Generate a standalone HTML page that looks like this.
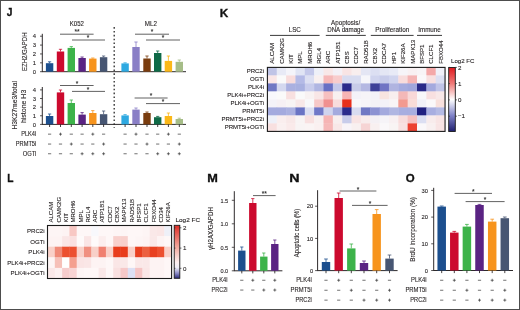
<!DOCTYPE html>
<html><head><meta charset="utf-8"><style>
html,body{margin:0;padding:0;background:#fff;}
body{width:520px;height:310px;overflow:hidden;}
svg{display:block;font-family:"Liberation Sans", sans-serif;will-change:transform;}
</style></head><body>
<svg width="520" height="310" viewBox="0 0 520 310">
<defs><linearGradient id="gk" x1="0" y1="0" x2="0" y2="1">
<stop offset="0" stop-color="#e0191e"/><stop offset="0.25" stop-color="#f07a78"/><stop offset="0.5" stop-color="#ffffff"/><stop offset="0.75" stop-color="#8083c8"/><stop offset="1" stop-color="#1e1e6e"/>
</linearGradient>
<linearGradient id="gl" x1="0" y1="0" x2="0" y2="1">
<stop offset="0" stop-color="#de2d26"/><stop offset="0.4" stop-color="#f2a59a"/><stop offset="0.7" stop-color="#fdf0f0"/><stop offset="0.8" stop-color="#eeeef8"/><stop offset="0.9" stop-color="#9090c8"/><stop offset="1" stop-color="#2a2a7a"/>
</linearGradient></defs>
<rect x="0" y="0" width="520" height="310" fill="#fff"/>
<text x="9.50" y="16.42" font-size="10.20" text-anchor="middle" font-weight="bold" fill="#111" stroke="#111" stroke-width="0.3">J</text>
<text x="224.00" y="16.52" font-size="10.20" text-anchor="middle" font-weight="bold" fill="#111" textLength="8.50" lengthAdjust="spacingAndGlyphs" stroke="#111" stroke-width="0.3">K</text>
<text x="10.40" y="181.52" font-size="10.20" text-anchor="middle" font-weight="bold" fill="#111" stroke="#111" stroke-width="0.3">L</text>
<text x="212.60" y="181.52" font-size="10.20" text-anchor="middle" font-weight="bold" fill="#111" textLength="10.60" lengthAdjust="spacingAndGlyphs" stroke="#111" stroke-width="0.3">M</text>
<text x="294.30" y="181.52" font-size="10.20" text-anchor="middle" font-weight="bold" fill="#111" textLength="10.30" lengthAdjust="spacingAndGlyphs" stroke="#111" stroke-width="0.3">N</text>
<text x="410.30" y="181.52" font-size="10.20" text-anchor="middle" font-weight="bold" fill="#111" textLength="8.90" lengthAdjust="spacingAndGlyphs" stroke="#111" stroke-width="0.3">O</text>
<line x1="42.30" y1="33.80" x2="42.30" y2="71.70" stroke="#231f20" stroke-width="0.95"/>
<line x1="41.90" y1="71.70" x2="186.00" y2="71.70" stroke="#231f20" stroke-width="0.95"/>
<line x1="40.00" y1="71.70" x2="42.30" y2="71.70" stroke="#231f20" stroke-width="0.75"/>
<text x="36.00" y="73.94" font-size="6.15" text-anchor="end" font-weight="normal" fill="#231f20" textLength="3.28" lengthAdjust="spacingAndGlyphs" stroke="#231f20" stroke-width="0.1">0</text>
<line x1="40.00" y1="62.83" x2="42.30" y2="62.83" stroke="#231f20" stroke-width="0.75"/>
<text x="36.00" y="65.06" font-size="6.15" text-anchor="end" font-weight="normal" fill="#231f20" textLength="3.28" lengthAdjust="spacingAndGlyphs" stroke="#231f20" stroke-width="0.1">1</text>
<line x1="40.00" y1="53.95" x2="42.30" y2="53.95" stroke="#231f20" stroke-width="0.75"/>
<text x="36.00" y="56.19" font-size="6.15" text-anchor="end" font-weight="normal" fill="#231f20" textLength="3.28" lengthAdjust="spacingAndGlyphs" stroke="#231f20" stroke-width="0.1">2</text>
<line x1="40.00" y1="45.08" x2="42.30" y2="45.08" stroke="#231f20" stroke-width="0.75"/>
<text x="36.00" y="47.32" font-size="6.15" text-anchor="end" font-weight="normal" fill="#231f20" textLength="3.28" lengthAdjust="spacingAndGlyphs" stroke="#231f20" stroke-width="0.1">3</text>
<line x1="40.00" y1="36.20" x2="42.30" y2="36.20" stroke="#231f20" stroke-width="0.75"/>
<text x="36.00" y="38.44" font-size="6.15" text-anchor="end" font-weight="normal" fill="#231f20" textLength="3.28" lengthAdjust="spacingAndGlyphs" stroke="#231f20" stroke-width="0.1">4</text>
<rect x="45.90" y="63.20" width="7.40" height="8.50" fill="#1c4f8e"/>
<line x1="49.60" y1="61.80" x2="49.60" y2="63.20" stroke="#1c4f8e" stroke-width="0.8"/>
<line x1="47.97" y1="61.80" x2="51.23" y2="61.80" stroke="#1c4f8e" stroke-width="0.8"/>
<rect x="56.80" y="51.50" width="7.40" height="20.20" fill="#cc0a2e"/>
<line x1="60.50" y1="49.30" x2="60.50" y2="51.50" stroke="#cc0a2e" stroke-width="0.8"/>
<line x1="58.87" y1="49.30" x2="62.13" y2="49.30" stroke="#cc0a2e" stroke-width="0.8"/>
<rect x="67.60" y="47.90" width="7.40" height="23.80" fill="#3db34a"/>
<line x1="71.30" y1="46.60" x2="71.30" y2="47.90" stroke="#3db34a" stroke-width="0.8"/>
<line x1="69.67" y1="46.60" x2="72.93" y2="46.60" stroke="#3db34a" stroke-width="0.8"/>
<rect x="78.40" y="58.00" width="7.40" height="13.70" fill="#5a2383"/>
<line x1="82.10" y1="57.00" x2="82.10" y2="58.00" stroke="#5a2383" stroke-width="0.8"/>
<line x1="80.47" y1="57.00" x2="83.73" y2="57.00" stroke="#5a2383" stroke-width="0.8"/>
<rect x="89.10" y="58.60" width="7.40" height="13.10" fill="#f7941d"/>
<line x1="92.80" y1="58.00" x2="92.80" y2="58.60" stroke="#f7941d" stroke-width="0.8"/>
<line x1="91.17" y1="58.00" x2="94.43" y2="58.00" stroke="#f7941d" stroke-width="0.8"/>
<rect x="99.90" y="57.20" width="7.40" height="14.50" fill="#475673"/>
<line x1="103.60" y1="56.00" x2="103.60" y2="57.20" stroke="#475673" stroke-width="0.8"/>
<line x1="101.97" y1="56.00" x2="105.23" y2="56.00" stroke="#475673" stroke-width="0.8"/>
<rect x="121.40" y="63.40" width="7.40" height="8.30" fill="#2ea9e1"/>
<line x1="125.10" y1="62.80" x2="125.10" y2="63.40" stroke="#2ea9e1" stroke-width="0.8"/>
<line x1="123.47" y1="62.80" x2="126.73" y2="62.80" stroke="#2ea9e1" stroke-width="0.8"/>
<rect x="132.30" y="47.00" width="7.40" height="24.70" fill="#8a7fc6"/>
<line x1="136.00" y1="42.00" x2="136.00" y2="47.00" stroke="#8a7fc6" stroke-width="0.8"/>
<line x1="134.37" y1="42.00" x2="137.63" y2="42.00" stroke="#8a7fc6" stroke-width="0.8"/>
<rect x="143.30" y="58.50" width="7.40" height="13.20" fill="#7a3d0f"/>
<line x1="147.00" y1="56.00" x2="147.00" y2="58.50" stroke="#7a3d0f" stroke-width="0.8"/>
<line x1="145.37" y1="56.00" x2="148.63" y2="56.00" stroke="#7a3d0f" stroke-width="0.8"/>
<rect x="154.00" y="53.00" width="7.40" height="18.70" fill="#0f6a47"/>
<line x1="157.70" y1="51.00" x2="157.70" y2="53.00" stroke="#0f6a47" stroke-width="0.8"/>
<line x1="156.07" y1="51.00" x2="159.33" y2="51.00" stroke="#0f6a47" stroke-width="0.8"/>
<rect x="164.70" y="60.90" width="7.40" height="10.80" fill="#fbb818"/>
<line x1="168.40" y1="56.00" x2="168.40" y2="60.90" stroke="#fbb818" stroke-width="0.8"/>
<line x1="166.77" y1="56.00" x2="170.03" y2="56.00" stroke="#fbb818" stroke-width="0.8"/>
<rect x="175.60" y="61.80" width="7.40" height="9.90" fill="#a6bd88"/>
<line x1="179.30" y1="60.00" x2="179.30" y2="61.80" stroke="#a6bd88" stroke-width="0.8"/>
<line x1="177.67" y1="60.00" x2="180.93" y2="60.00" stroke="#a6bd88" stroke-width="0.8"/>
<text x="27.29" y="51.70" font-size="6.82" text-anchor="middle" font-weight="normal" fill="#231f20" transform="rotate(-90 27.29 51.70)" textLength="38.60" lengthAdjust="spacingAndGlyphs" stroke="#231f20" stroke-width="0.1">EZH2/GAPDH</text>
<text x="76.90" y="25.58" font-size="6.53" text-anchor="middle" font-weight="normal" fill="#231f20" textLength="14.15" lengthAdjust="spacingAndGlyphs" stroke="#231f20" stroke-width="0.1">K052</text>
<text x="150.90" y="25.58" font-size="6.53" text-anchor="middle" font-weight="normal" fill="#231f20" textLength="12.17" lengthAdjust="spacingAndGlyphs" stroke="#231f20" stroke-width="0.1">ML2</text>
<line x1="60.00" y1="34.20" x2="93.60" y2="34.20" stroke="#505050" stroke-width="0.9"/>
<text x="77.00" y="34.30" font-size="6.6" text-anchor="middle" font-weight="bold" fill="#333">**</text>
<line x1="72.00" y1="40.00" x2="105.00" y2="40.00" stroke="#505050" stroke-width="0.9"/>
<text x="88.00" y="40.30" font-size="6.6" text-anchor="middle" font-weight="bold" fill="#333">*</text>
<line x1="135.00" y1="34.20" x2="169.00" y2="34.20" stroke="#505050" stroke-width="0.9"/>
<text x="152.00" y="34.30" font-size="6.6" text-anchor="middle" font-weight="bold" fill="#333">*</text>
<line x1="146.00" y1="40.00" x2="180.00" y2="40.00" stroke="#505050" stroke-width="0.9"/>
<text x="163.00" y="40.30" font-size="6.6" text-anchor="middle" font-weight="bold" fill="#333">*</text>
<line x1="42.30" y1="87.00" x2="42.30" y2="124.40" stroke="#231f20" stroke-width="0.95"/>
<line x1="41.90" y1="124.40" x2="186.00" y2="124.40" stroke="#231f20" stroke-width="0.95"/>
<line x1="40.00" y1="124.40" x2="42.30" y2="124.40" stroke="#231f20" stroke-width="0.75"/>
<text x="36.00" y="126.64" font-size="6.15" text-anchor="end" font-weight="normal" fill="#231f20" textLength="3.28" lengthAdjust="spacingAndGlyphs" stroke="#231f20" stroke-width="0.1">0</text>
<line x1="40.00" y1="115.78" x2="42.30" y2="115.78" stroke="#231f20" stroke-width="0.75"/>
<text x="36.00" y="118.02" font-size="6.15" text-anchor="end" font-weight="normal" fill="#231f20" textLength="3.28" lengthAdjust="spacingAndGlyphs" stroke="#231f20" stroke-width="0.1">1</text>
<line x1="40.00" y1="107.15" x2="42.30" y2="107.15" stroke="#231f20" stroke-width="0.75"/>
<text x="36.00" y="109.39" font-size="6.15" text-anchor="end" font-weight="normal" fill="#231f20" textLength="3.28" lengthAdjust="spacingAndGlyphs" stroke="#231f20" stroke-width="0.1">2</text>
<line x1="40.00" y1="98.53" x2="42.30" y2="98.53" stroke="#231f20" stroke-width="0.75"/>
<text x="36.00" y="100.77" font-size="6.15" text-anchor="end" font-weight="normal" fill="#231f20" textLength="3.28" lengthAdjust="spacingAndGlyphs" stroke="#231f20" stroke-width="0.1">3</text>
<line x1="40.00" y1="89.90" x2="42.30" y2="89.90" stroke="#231f20" stroke-width="0.75"/>
<text x="36.00" y="92.14" font-size="6.15" text-anchor="end" font-weight="normal" fill="#231f20" textLength="3.28" lengthAdjust="spacingAndGlyphs" stroke="#231f20" stroke-width="0.1">4</text>
<rect x="45.90" y="116.00" width="7.40" height="8.40" fill="#1c4f8e"/>
<line x1="49.60" y1="114.00" x2="49.60" y2="116.00" stroke="#1c4f8e" stroke-width="0.8"/>
<line x1="47.97" y1="114.00" x2="51.23" y2="114.00" stroke="#1c4f8e" stroke-width="0.8"/>
<rect x="56.80" y="92.40" width="7.40" height="32.00" fill="#cc0a2e"/>
<line x1="60.50" y1="90.00" x2="60.50" y2="92.40" stroke="#cc0a2e" stroke-width="0.8"/>
<line x1="58.87" y1="90.00" x2="62.13" y2="90.00" stroke="#cc0a2e" stroke-width="0.8"/>
<rect x="67.60" y="103.00" width="7.40" height="21.40" fill="#3db34a"/>
<line x1="71.30" y1="100.00" x2="71.30" y2="103.00" stroke="#3db34a" stroke-width="0.8"/>
<line x1="69.67" y1="100.00" x2="72.93" y2="100.00" stroke="#3db34a" stroke-width="0.8"/>
<rect x="78.40" y="114.60" width="7.40" height="9.80" fill="#5a2383"/>
<line x1="82.10" y1="112.60" x2="82.10" y2="114.60" stroke="#5a2383" stroke-width="0.8"/>
<line x1="80.47" y1="112.60" x2="83.73" y2="112.60" stroke="#5a2383" stroke-width="0.8"/>
<rect x="89.10" y="113.00" width="7.40" height="11.40" fill="#f7941d"/>
<line x1="92.80" y1="110.60" x2="92.80" y2="113.00" stroke="#f7941d" stroke-width="0.8"/>
<line x1="91.17" y1="110.60" x2="94.43" y2="110.60" stroke="#f7941d" stroke-width="0.8"/>
<rect x="99.90" y="114.20" width="7.40" height="10.20" fill="#475673"/>
<line x1="103.60" y1="111.00" x2="103.60" y2="114.20" stroke="#475673" stroke-width="0.8"/>
<line x1="101.97" y1="111.00" x2="105.23" y2="111.00" stroke="#475673" stroke-width="0.8"/>
<rect x="121.40" y="115.40" width="7.40" height="9.00" fill="#2ea9e1"/>
<line x1="125.10" y1="114.60" x2="125.10" y2="115.40" stroke="#2ea9e1" stroke-width="0.8"/>
<line x1="123.47" y1="114.60" x2="126.73" y2="114.60" stroke="#2ea9e1" stroke-width="0.8"/>
<rect x="132.30" y="109.60" width="7.40" height="14.80" fill="#8a7fc6"/>
<line x1="136.00" y1="108.00" x2="136.00" y2="109.60" stroke="#8a7fc6" stroke-width="0.8"/>
<line x1="134.37" y1="108.00" x2="137.63" y2="108.00" stroke="#8a7fc6" stroke-width="0.8"/>
<rect x="143.30" y="113.00" width="7.40" height="11.40" fill="#7a3d0f"/>
<line x1="147.00" y1="112.00" x2="147.00" y2="113.00" stroke="#7a3d0f" stroke-width="0.8"/>
<line x1="145.37" y1="112.00" x2="148.63" y2="112.00" stroke="#7a3d0f" stroke-width="0.8"/>
<rect x="154.00" y="117.20" width="7.40" height="7.20" fill="#0f6a47"/>
<line x1="157.70" y1="116.40" x2="157.70" y2="117.20" stroke="#0f6a47" stroke-width="0.8"/>
<line x1="156.07" y1="116.40" x2="159.33" y2="116.40" stroke="#0f6a47" stroke-width="0.8"/>
<rect x="164.70" y="116.00" width="7.40" height="8.40" fill="#fbb818"/>
<line x1="168.40" y1="113.00" x2="168.40" y2="116.00" stroke="#fbb818" stroke-width="0.8"/>
<line x1="166.77" y1="113.00" x2="170.03" y2="113.00" stroke="#fbb818" stroke-width="0.8"/>
<rect x="175.60" y="119.00" width="7.40" height="5.40" fill="#a6bd88"/>
<line x1="179.30" y1="118.20" x2="179.30" y2="119.00" stroke="#a6bd88" stroke-width="0.8"/>
<line x1="177.67" y1="118.20" x2="180.93" y2="118.20" stroke="#a6bd88" stroke-width="0.8"/>
<line x1="49.60" y1="124.40" x2="49.60" y2="127.00" stroke="#231f20" stroke-width="0.85"/>
<line x1="60.50" y1="124.40" x2="60.50" y2="127.00" stroke="#231f20" stroke-width="0.85"/>
<line x1="71.30" y1="124.40" x2="71.30" y2="127.00" stroke="#231f20" stroke-width="0.85"/>
<line x1="82.10" y1="124.40" x2="82.10" y2="127.00" stroke="#231f20" stroke-width="0.85"/>
<line x1="92.80" y1="124.40" x2="92.80" y2="127.00" stroke="#231f20" stroke-width="0.85"/>
<line x1="103.60" y1="124.40" x2="103.60" y2="127.00" stroke="#231f20" stroke-width="0.85"/>
<line x1="125.10" y1="124.40" x2="125.10" y2="127.00" stroke="#231f20" stroke-width="0.85"/>
<line x1="136.00" y1="124.40" x2="136.00" y2="127.00" stroke="#231f20" stroke-width="0.85"/>
<line x1="147.00" y1="124.40" x2="147.00" y2="127.00" stroke="#231f20" stroke-width="0.85"/>
<line x1="157.70" y1="124.40" x2="157.70" y2="127.00" stroke="#231f20" stroke-width="0.85"/>
<line x1="168.40" y1="124.40" x2="168.40" y2="127.00" stroke="#231f20" stroke-width="0.85"/>
<line x1="179.30" y1="124.40" x2="179.30" y2="127.00" stroke="#231f20" stroke-width="0.85"/>
<text x="17.25" y="105.30" font-size="7.01" text-anchor="middle" font-weight="normal" fill="#231f20" transform="rotate(-90 17.25 105.30)" textLength="48.60" lengthAdjust="spacingAndGlyphs" stroke="#231f20" stroke-width="0.1">H3K27me3/total</text>
<text x="25.86" y="106.40" font-size="7.01" text-anchor="middle" font-weight="normal" fill="#231f20" transform="rotate(-90 25.86 106.40)" textLength="33.40" lengthAdjust="spacingAndGlyphs" stroke="#231f20" stroke-width="0.1">histone H3</text>
<line x1="60.00" y1="85.50" x2="93.60" y2="85.50" stroke="#505050" stroke-width="0.9"/>
<text x="77.00" y="85.70" font-size="6.6" text-anchor="middle" font-weight="bold" fill="#333">*</text>
<line x1="72.00" y1="91.40" x2="105.00" y2="91.40" stroke="#505050" stroke-width="0.9"/>
<text x="88.00" y="91.70" font-size="6.6" text-anchor="middle" font-weight="bold" fill="#333">*</text>
<line x1="134.60" y1="98.00" x2="167.60" y2="98.00" stroke="#505050" stroke-width="0.9"/>
<text x="151.10" y="98.30" font-size="6.6" text-anchor="middle" font-weight="bold" fill="#333">*</text>
<line x1="146.00" y1="103.60" x2="180.00" y2="103.60" stroke="#505050" stroke-width="0.9"/>
<text x="163.00" y="103.90" font-size="6.6" text-anchor="middle" font-weight="bold" fill="#333">*</text>
<line x1="114.20" y1="27.10" x2="114.20" y2="128.00" stroke="#2a2a2a" stroke-width="1.3" stroke-dasharray="1.6 2.25"/>
<text x="36.30" y="136.01" font-size="6.34" text-anchor="end" font-weight="normal" fill="#231f20" textLength="15.13" lengthAdjust="spacingAndGlyphs" stroke="#231f20" stroke-width="0.1">PLK4i</text>
<line x1="48.00" y1="134.15" x2="51.20" y2="134.15" stroke="#333" stroke-width="0.7"/>
<line x1="59.00" y1="134.15" x2="62.00" y2="134.15" stroke="#333" stroke-width="0.7"/>
<line x1="60.50" y1="132.65" x2="60.50" y2="135.65" stroke="#333" stroke-width="0.7"/>
<line x1="69.70" y1="134.15" x2="72.90" y2="134.15" stroke="#333" stroke-width="0.7"/>
<line x1="80.50" y1="134.15" x2="83.70" y2="134.15" stroke="#333" stroke-width="0.7"/>
<line x1="91.30" y1="134.15" x2="94.30" y2="134.15" stroke="#333" stroke-width="0.7"/>
<line x1="92.80" y1="132.65" x2="92.80" y2="135.65" stroke="#333" stroke-width="0.7"/>
<line x1="102.00" y1="134.15" x2="105.20" y2="134.15" stroke="#333" stroke-width="0.7"/>
<line x1="123.50" y1="134.15" x2="126.70" y2="134.15" stroke="#333" stroke-width="0.7"/>
<line x1="134.50" y1="134.15" x2="137.50" y2="134.15" stroke="#333" stroke-width="0.7"/>
<line x1="136.00" y1="132.65" x2="136.00" y2="135.65" stroke="#333" stroke-width="0.7"/>
<line x1="145.40" y1="134.15" x2="148.60" y2="134.15" stroke="#333" stroke-width="0.7"/>
<line x1="156.10" y1="134.15" x2="159.30" y2="134.15" stroke="#333" stroke-width="0.7"/>
<line x1="166.90" y1="134.15" x2="169.90" y2="134.15" stroke="#333" stroke-width="0.7"/>
<line x1="168.40" y1="132.65" x2="168.40" y2="135.65" stroke="#333" stroke-width="0.7"/>
<line x1="177.70" y1="134.15" x2="180.90" y2="134.15" stroke="#333" stroke-width="0.7"/>
<text x="36.30" y="145.91" font-size="6.34" text-anchor="end" font-weight="normal" fill="#231f20" textLength="20.58" lengthAdjust="spacingAndGlyphs" stroke="#231f20" stroke-width="0.1">PRMT5i</text>
<line x1="48.00" y1="144.05" x2="51.20" y2="144.05" stroke="#333" stroke-width="0.7"/>
<line x1="58.90" y1="144.05" x2="62.10" y2="144.05" stroke="#333" stroke-width="0.7"/>
<line x1="69.80" y1="144.05" x2="72.80" y2="144.05" stroke="#333" stroke-width="0.7"/>
<line x1="71.30" y1="142.55" x2="71.30" y2="145.55" stroke="#333" stroke-width="0.7"/>
<line x1="80.50" y1="144.05" x2="83.70" y2="144.05" stroke="#333" stroke-width="0.7"/>
<line x1="91.20" y1="144.05" x2="94.40" y2="144.05" stroke="#333" stroke-width="0.7"/>
<line x1="102.10" y1="144.05" x2="105.10" y2="144.05" stroke="#333" stroke-width="0.7"/>
<line x1="103.60" y1="142.55" x2="103.60" y2="145.55" stroke="#333" stroke-width="0.7"/>
<line x1="123.50" y1="144.05" x2="126.70" y2="144.05" stroke="#333" stroke-width="0.7"/>
<line x1="134.40" y1="144.05" x2="137.60" y2="144.05" stroke="#333" stroke-width="0.7"/>
<line x1="145.50" y1="144.05" x2="148.50" y2="144.05" stroke="#333" stroke-width="0.7"/>
<line x1="147.00" y1="142.55" x2="147.00" y2="145.55" stroke="#333" stroke-width="0.7"/>
<line x1="156.10" y1="144.05" x2="159.30" y2="144.05" stroke="#333" stroke-width="0.7"/>
<line x1="166.80" y1="144.05" x2="170.00" y2="144.05" stroke="#333" stroke-width="0.7"/>
<line x1="177.80" y1="144.05" x2="180.80" y2="144.05" stroke="#333" stroke-width="0.7"/>
<line x1="179.30" y1="142.55" x2="179.30" y2="145.55" stroke="#333" stroke-width="0.7"/>
<text x="36.30" y="155.61" font-size="6.34" text-anchor="end" font-weight="normal" fill="#231f20" textLength="13.64" lengthAdjust="spacingAndGlyphs" stroke="#231f20" stroke-width="0.1">OGTi</text>
<line x1="48.00" y1="153.75" x2="51.20" y2="153.75" stroke="#333" stroke-width="0.7"/>
<line x1="58.90" y1="153.75" x2="62.10" y2="153.75" stroke="#333" stroke-width="0.7"/>
<line x1="69.70" y1="153.75" x2="72.90" y2="153.75" stroke="#333" stroke-width="0.7"/>
<line x1="80.60" y1="153.75" x2="83.60" y2="153.75" stroke="#333" stroke-width="0.7"/>
<line x1="82.10" y1="152.25" x2="82.10" y2="155.25" stroke="#333" stroke-width="0.7"/>
<line x1="91.30" y1="153.75" x2="94.30" y2="153.75" stroke="#333" stroke-width="0.7"/>
<line x1="92.80" y1="152.25" x2="92.80" y2="155.25" stroke="#333" stroke-width="0.7"/>
<line x1="102.10" y1="153.75" x2="105.10" y2="153.75" stroke="#333" stroke-width="0.7"/>
<line x1="103.60" y1="152.25" x2="103.60" y2="155.25" stroke="#333" stroke-width="0.7"/>
<line x1="123.50" y1="153.75" x2="126.70" y2="153.75" stroke="#333" stroke-width="0.7"/>
<line x1="134.40" y1="153.75" x2="137.60" y2="153.75" stroke="#333" stroke-width="0.7"/>
<line x1="145.40" y1="153.75" x2="148.60" y2="153.75" stroke="#333" stroke-width="0.7"/>
<line x1="156.20" y1="153.75" x2="159.20" y2="153.75" stroke="#333" stroke-width="0.7"/>
<line x1="157.70" y1="152.25" x2="157.70" y2="155.25" stroke="#333" stroke-width="0.7"/>
<line x1="166.90" y1="153.75" x2="169.90" y2="153.75" stroke="#333" stroke-width="0.7"/>
<line x1="168.40" y1="152.25" x2="168.40" y2="155.25" stroke="#333" stroke-width="0.7"/>
<line x1="177.80" y1="153.75" x2="180.80" y2="153.75" stroke="#333" stroke-width="0.7"/>
<line x1="179.30" y1="152.25" x2="179.30" y2="155.25" stroke="#333" stroke-width="0.7"/>
<rect x="267.40" y="67.40" width="9.75" height="8.40" fill="#c0c4e6"/>
<rect x="276.75" y="67.40" width="9.75" height="8.40" fill="#e8eaf6"/>
<rect x="286.10" y="67.40" width="9.75" height="8.40" fill="#f4f4fa"/>
<rect x="295.45" y="67.40" width="9.75" height="8.40" fill="#e0e4f4"/>
<rect x="304.80" y="67.40" width="9.75" height="8.40" fill="#c4c8ea"/>
<rect x="314.15" y="67.40" width="9.75" height="8.40" fill="#eef0f8"/>
<rect x="323.50" y="67.40" width="9.75" height="8.40" fill="#f8e8e8"/>
<rect x="332.85" y="67.40" width="9.75" height="8.40" fill="#f4f0f6"/>
<rect x="342.20" y="67.40" width="9.75" height="8.40" fill="#f8e4e4"/>
<rect x="351.55" y="67.40" width="9.75" height="8.40" fill="#f8eeee"/>
<rect x="360.90" y="67.40" width="9.75" height="8.40" fill="#e4e6f4"/>
<rect x="370.25" y="67.40" width="9.75" height="8.40" fill="#dcdff2"/>
<rect x="379.60" y="67.40" width="9.75" height="8.40" fill="#e4e6f4"/>
<rect x="388.95" y="67.40" width="9.75" height="8.40" fill="#e8eaf6"/>
<rect x="398.30" y="67.40" width="9.75" height="8.40" fill="#f6f4f8"/>
<rect x="407.65" y="67.40" width="9.75" height="8.40" fill="#f8f0f2"/>
<rect x="417.00" y="67.40" width="9.75" height="8.40" fill="#f8f4f6"/>
<rect x="426.35" y="67.40" width="9.75" height="8.40" fill="#f4a8a8"/>
<rect x="435.70" y="67.40" width="9.35" height="8.40" fill="#f0f0f8"/>
<rect x="267.40" y="75.40" width="9.75" height="8.40" fill="#fae6e6"/>
<rect x="276.75" y="75.40" width="9.75" height="8.40" fill="#fafafa"/>
<rect x="286.10" y="75.40" width="9.75" height="8.40" fill="#f8dcdc"/>
<rect x="295.45" y="75.40" width="9.75" height="8.40" fill="#b4bae6"/>
<rect x="304.80" y="75.40" width="9.75" height="8.40" fill="#dcdff2"/>
<rect x="314.15" y="75.40" width="9.75" height="8.40" fill="#f8f0f0"/>
<rect x="323.50" y="75.40" width="9.75" height="8.40" fill="#f6b8b8"/>
<rect x="332.85" y="75.40" width="9.75" height="8.40" fill="#f8cccc"/>
<rect x="342.20" y="75.40" width="9.75" height="8.40" fill="#d8dcf0"/>
<rect x="351.55" y="75.40" width="9.75" height="8.40" fill="#d8dcf0"/>
<rect x="360.90" y="75.40" width="9.75" height="8.40" fill="#f6f6fa"/>
<rect x="370.25" y="75.40" width="9.75" height="8.40" fill="#d0d4ee"/>
<rect x="379.60" y="75.40" width="9.75" height="8.40" fill="#c8ccea"/>
<rect x="388.95" y="75.40" width="9.75" height="8.40" fill="#d0d4ee"/>
<rect x="398.30" y="75.40" width="9.75" height="8.40" fill="#f8dcdc"/>
<rect x="407.65" y="75.40" width="9.75" height="8.40" fill="#f4b4b4"/>
<rect x="417.00" y="75.40" width="9.75" height="8.40" fill="#faf8fa"/>
<rect x="426.35" y="75.40" width="9.75" height="8.40" fill="#f8e0e0"/>
<rect x="435.70" y="75.40" width="9.35" height="8.40" fill="#dcdff2"/>
<rect x="267.40" y="83.40" width="9.75" height="8.40" fill="#7078c4"/>
<rect x="276.75" y="83.40" width="9.75" height="8.40" fill="#d4d8ef"/>
<rect x="286.10" y="83.40" width="9.75" height="8.40" fill="#aab0e0"/>
<rect x="295.45" y="83.40" width="9.75" height="8.40" fill="#a8b0e0"/>
<rect x="304.80" y="83.40" width="9.75" height="8.40" fill="#c8ccec"/>
<rect x="314.15" y="83.40" width="9.75" height="8.40" fill="#b0b6e2"/>
<rect x="323.50" y="83.40" width="9.75" height="8.40" fill="#6870c4"/>
<rect x="332.85" y="83.40" width="9.75" height="8.40" fill="#c4c8ea"/>
<rect x="342.20" y="83.40" width="9.75" height="8.40" fill="#2a2a8a"/>
<rect x="351.55" y="83.40" width="9.75" height="8.40" fill="#c8cce8"/>
<rect x="360.90" y="83.40" width="9.75" height="8.40" fill="#b4b8e2"/>
<rect x="370.25" y="83.40" width="9.75" height="8.40" fill="#3e4098"/>
<rect x="379.60" y="83.40" width="9.75" height="8.40" fill="#7074c4"/>
<rect x="388.95" y="83.40" width="9.75" height="8.40" fill="#b0b4e0"/>
<rect x="398.30" y="83.40" width="9.75" height="8.40" fill="#a4aade"/>
<rect x="407.65" y="83.40" width="9.75" height="8.40" fill="#a0a6dc"/>
<rect x="417.00" y="83.40" width="9.75" height="8.40" fill="#2a2a88"/>
<rect x="426.35" y="83.40" width="9.75" height="8.40" fill="#a4aade"/>
<rect x="435.70" y="83.40" width="9.35" height="8.40" fill="#c0c4e8"/>
<rect x="267.40" y="91.40" width="9.75" height="8.40" fill="#f8f8fc"/>
<rect x="276.75" y="91.40" width="9.75" height="8.40" fill="#fafafa"/>
<rect x="286.10" y="91.40" width="9.75" height="8.40" fill="#f8e0e0"/>
<rect x="295.45" y="91.40" width="9.75" height="8.40" fill="#fafafa"/>
<rect x="304.80" y="91.40" width="9.75" height="8.40" fill="#f8f2f2"/>
<rect x="314.15" y="91.40" width="9.75" height="8.40" fill="#f8e6e6"/>
<rect x="323.50" y="91.40" width="9.75" height="8.40" fill="#f6c0c0"/>
<rect x="332.85" y="91.40" width="9.75" height="8.40" fill="#f8f0f0"/>
<rect x="342.20" y="91.40" width="9.75" height="8.40" fill="#f6b4b4"/>
<rect x="351.55" y="91.40" width="9.75" height="8.40" fill="#f4f2f8"/>
<rect x="360.90" y="91.40" width="9.75" height="8.40" fill="#f6f4f8"/>
<rect x="370.25" y="91.40" width="9.75" height="8.40" fill="#f4f2f8"/>
<rect x="379.60" y="91.40" width="9.75" height="8.40" fill="#f8e4e0"/>
<rect x="388.95" y="91.40" width="9.75" height="8.40" fill="#f8eeee"/>
<rect x="398.30" y="91.40" width="9.75" height="8.40" fill="#f4b8b8"/>
<rect x="407.65" y="91.40" width="9.75" height="8.40" fill="#f8d8d8"/>
<rect x="417.00" y="91.40" width="9.75" height="8.40" fill="#f8f8fa"/>
<rect x="426.35" y="91.40" width="9.75" height="8.40" fill="#f8e0e0"/>
<rect x="435.70" y="91.40" width="9.35" height="8.40" fill="#f8e8e8"/>
<rect x="267.40" y="99.40" width="9.75" height="8.40" fill="#f4f2f8"/>
<rect x="276.75" y="99.40" width="9.75" height="8.40" fill="#f6f0f4"/>
<rect x="286.10" y="99.40" width="9.75" height="8.40" fill="#f8f4f4"/>
<rect x="295.45" y="99.40" width="9.75" height="8.40" fill="#f8e8e8"/>
<rect x="304.80" y="99.40" width="9.75" height="8.40" fill="#f8f8fa"/>
<rect x="314.15" y="99.40" width="9.75" height="8.40" fill="#f6c8c8"/>
<rect x="323.50" y="99.40" width="9.75" height="8.40" fill="#f09090"/>
<rect x="332.85" y="99.40" width="9.75" height="8.40" fill="#f8dcdc"/>
<rect x="342.20" y="99.40" width="9.75" height="8.40" fill="#e8301c"/>
<rect x="351.55" y="99.40" width="9.75" height="8.40" fill="#f8f8fa"/>
<rect x="360.90" y="99.40" width="9.75" height="8.40" fill="#f6f4f8"/>
<rect x="370.25" y="99.40" width="9.75" height="8.40" fill="#f4f2f6"/>
<rect x="379.60" y="99.40" width="9.75" height="8.40" fill="#f4f2f8"/>
<rect x="388.95" y="99.40" width="9.75" height="8.40" fill="#f8f4f6"/>
<rect x="398.30" y="99.40" width="9.75" height="8.40" fill="#f29a90"/>
<rect x="407.65" y="99.40" width="9.75" height="8.40" fill="#f8dcd8"/>
<rect x="417.00" y="99.40" width="9.75" height="8.40" fill="#f0f0f8"/>
<rect x="426.35" y="99.40" width="9.75" height="8.40" fill="#faf8fa"/>
<rect x="435.70" y="99.40" width="9.35" height="8.40" fill="#f8e0dc"/>
<rect x="267.40" y="107.40" width="9.75" height="8.40" fill="#a4aade"/>
<rect x="276.75" y="107.40" width="9.75" height="8.40" fill="#a4aade"/>
<rect x="286.10" y="107.40" width="9.75" height="8.40" fill="#aab0e0"/>
<rect x="295.45" y="107.40" width="9.75" height="8.40" fill="#6a74c4"/>
<rect x="304.80" y="107.40" width="9.75" height="8.40" fill="#dcdff2"/>
<rect x="314.15" y="107.40" width="9.75" height="8.40" fill="#7078c8"/>
<rect x="323.50" y="107.40" width="9.75" height="8.40" fill="#d0d4ee"/>
<rect x="332.85" y="107.40" width="9.75" height="8.40" fill="#a4aade"/>
<rect x="342.20" y="107.40" width="9.75" height="8.40" fill="#2c2c8c"/>
<rect x="351.55" y="107.40" width="9.75" height="8.40" fill="#d8dcf0"/>
<rect x="360.90" y="107.40" width="9.75" height="8.40" fill="#7078c4"/>
<rect x="370.25" y="107.40" width="9.75" height="8.40" fill="#8c92d2"/>
<rect x="379.60" y="107.40" width="9.75" height="8.40" fill="#a4aade"/>
<rect x="388.95" y="107.40" width="9.75" height="8.40" fill="#b0b6e2"/>
<rect x="398.30" y="107.40" width="9.75" height="8.40" fill="#a8aee0"/>
<rect x="407.65" y="107.40" width="9.75" height="8.40" fill="#a8aee0"/>
<rect x="417.00" y="107.40" width="9.75" height="8.40" fill="#202080"/>
<rect x="426.35" y="107.40" width="9.75" height="8.40" fill="#a8aee0"/>
<rect x="435.70" y="107.40" width="9.35" height="8.40" fill="#b4bae4"/>
<rect x="267.40" y="115.40" width="9.75" height="8.40" fill="#eef0f8"/>
<rect x="276.75" y="115.40" width="9.75" height="8.40" fill="#faeeee"/>
<rect x="286.10" y="115.40" width="9.75" height="8.40" fill="#f8e8e8"/>
<rect x="295.45" y="115.40" width="9.75" height="8.40" fill="#f8f4f4"/>
<rect x="304.80" y="115.40" width="9.75" height="8.40" fill="#f8e0e0"/>
<rect x="314.15" y="115.40" width="9.75" height="8.40" fill="#f8f0f0"/>
<rect x="323.50" y="115.40" width="9.75" height="8.40" fill="#f6b4b4"/>
<rect x="332.85" y="115.40" width="9.75" height="8.40" fill="#f8eeee"/>
<rect x="342.20" y="115.40" width="9.75" height="8.40" fill="#c8ccea"/>
<rect x="351.55" y="115.40" width="9.75" height="8.40" fill="#f8e4e4"/>
<rect x="360.90" y="115.40" width="9.75" height="8.40" fill="#f8ecec"/>
<rect x="370.25" y="115.40" width="9.75" height="8.40" fill="#f4f0f4"/>
<rect x="379.60" y="115.40" width="9.75" height="8.40" fill="#f6f4f8"/>
<rect x="388.95" y="115.40" width="9.75" height="8.40" fill="#f8f0f2"/>
<rect x="398.30" y="115.40" width="9.75" height="8.40" fill="#f8dcdc"/>
<rect x="407.65" y="115.40" width="9.75" height="8.40" fill="#f6c0c0"/>
<rect x="417.00" y="115.40" width="9.75" height="8.40" fill="#dcdff2"/>
<rect x="426.35" y="115.40" width="9.75" height="8.40" fill="#f8ecec"/>
<rect x="435.70" y="115.40" width="9.35" height="8.40" fill="#f8e4e4"/>
<rect x="267.40" y="123.40" width="9.75" height="8.00" fill="#f8e0e0"/>
<rect x="276.75" y="123.40" width="9.75" height="8.00" fill="#faf0f0"/>
<rect x="286.10" y="123.40" width="9.75" height="8.00" fill="#faeaea"/>
<rect x="295.45" y="123.40" width="9.75" height="8.00" fill="#f8f4f4"/>
<rect x="304.80" y="123.40" width="9.75" height="8.00" fill="#faf4f4"/>
<rect x="314.15" y="123.40" width="9.75" height="8.00" fill="#faf0f0"/>
<rect x="323.50" y="123.40" width="9.75" height="8.00" fill="#f6b8b8"/>
<rect x="332.85" y="123.40" width="9.75" height="8.00" fill="#f8e8e8"/>
<rect x="342.20" y="123.40" width="9.75" height="8.00" fill="#f8f4f8"/>
<rect x="351.55" y="123.40" width="9.75" height="8.00" fill="#f8f0f0"/>
<rect x="360.90" y="123.40" width="9.75" height="8.00" fill="#f6d4d4"/>
<rect x="370.25" y="123.40" width="9.75" height="8.00" fill="#f8f0f0"/>
<rect x="379.60" y="123.40" width="9.75" height="8.00" fill="#faf8fa"/>
<rect x="388.95" y="123.40" width="9.75" height="8.00" fill="#f8f4f4"/>
<rect x="398.30" y="123.40" width="9.75" height="8.00" fill="#f8e0e0"/>
<rect x="407.65" y="123.40" width="9.75" height="8.00" fill="#ec4030"/>
<rect x="417.00" y="123.40" width="9.75" height="8.00" fill="#faf8fa"/>
<rect x="426.35" y="123.40" width="9.75" height="8.00" fill="#f8f0f0"/>
<rect x="435.70" y="123.40" width="9.35" height="8.00" fill="#f8e4e4"/>
<rect x="267.40" y="67.40" width="177.65" height="64.00" fill="none" stroke="#1a1a1a" stroke-width="1.1"/>
<text x="264.00" y="73.29" font-size="6.00" text-anchor="end" font-weight="normal" fill="#231f20" stroke="#231f20" stroke-width="0.12">PRC2i</text>
<text x="264.00" y="81.29" font-size="6.00" text-anchor="end" font-weight="normal" fill="#231f20" stroke="#231f20" stroke-width="0.12">OGTi</text>
<text x="264.00" y="89.29" font-size="6.00" text-anchor="end" font-weight="normal" fill="#231f20" stroke="#231f20" stroke-width="0.12">PLK4i</text>
<text x="264.00" y="97.29" font-size="6.00" text-anchor="end" font-weight="normal" fill="#231f20" stroke="#231f20" stroke-width="0.12">PLK4i+PRC2i</text>
<text x="264.00" y="105.29" font-size="6.00" text-anchor="end" font-weight="normal" fill="#231f20" stroke="#231f20" stroke-width="0.12">PLK4i+OGTi</text>
<text x="264.00" y="113.29" font-size="6.00" text-anchor="end" font-weight="normal" fill="#231f20" stroke="#231f20" stroke-width="0.12">PRMT5i</text>
<text x="264.00" y="121.29" font-size="6.00" text-anchor="end" font-weight="normal" fill="#231f20" stroke="#231f20" stroke-width="0.12">PRMT5i+PRC2i</text>
<text x="264.00" y="129.29" font-size="6.00" text-anchor="end" font-weight="normal" fill="#231f20" stroke="#231f20" stroke-width="0.12">PRMT5i+OGTi</text>
<text x="274.30" y="63.80" font-size="6.10" text-anchor="start" font-weight="normal" fill="#231f20" transform="rotate(-90 274.30 63.80)" stroke="#231f20" stroke-width="0.12">ALCAM</text>
<text x="283.65" y="63.80" font-size="6.10" text-anchor="start" font-weight="normal" fill="#231f20" transform="rotate(-90 283.65 63.80)" stroke="#231f20" stroke-width="0.12">CAMK2G</text>
<text x="293.00" y="63.80" font-size="6.10" text-anchor="start" font-weight="normal" fill="#231f20" transform="rotate(-90 293.00 63.80)" stroke="#231f20" stroke-width="0.12">KIT</text>
<text x="302.35" y="63.80" font-size="6.10" text-anchor="start" font-weight="normal" fill="#231f20" transform="rotate(-90 302.35 63.80)" stroke="#231f20" stroke-width="0.12">MPL</text>
<text x="311.70" y="63.80" font-size="6.10" text-anchor="start" font-weight="normal" fill="#231f20" transform="rotate(-90 311.70 63.80)" stroke="#231f20" stroke-width="0.12">MROH6</text>
<text x="321.05" y="63.80" font-size="6.10" text-anchor="start" font-weight="normal" fill="#231f20" transform="rotate(-90 321.05 63.80)" stroke="#231f20" stroke-width="0.12">RGL4</text>
<text x="330.40" y="63.80" font-size="6.10" text-anchor="start" font-weight="normal" fill="#231f20" transform="rotate(-90 330.40 63.80)" stroke="#231f20" stroke-width="0.12">ARC</text>
<text x="339.75" y="63.80" font-size="6.10" text-anchor="start" font-weight="normal" fill="#231f20" transform="rotate(-90 339.75 63.80)" stroke="#231f20" stroke-width="0.12">ATP1B1</text>
<text x="349.10" y="63.80" font-size="6.10" text-anchor="start" font-weight="normal" fill="#231f20" transform="rotate(-90 349.10 63.80)" stroke="#231f20" stroke-width="0.12">CBS</text>
<text x="358.45" y="63.80" font-size="6.10" text-anchor="start" font-weight="normal" fill="#231f20" transform="rotate(-90 358.45 63.80)" stroke="#231f20" stroke-width="0.12">CDC7</text>
<text x="367.80" y="63.80" font-size="6.10" text-anchor="start" font-weight="normal" fill="#231f20" transform="rotate(-90 367.80 63.80)" stroke="#231f20" stroke-width="0.12">RAD51B</text>
<text x="377.15" y="63.80" font-size="6.10" text-anchor="start" font-weight="normal" fill="#231f20" transform="rotate(-90 377.15 63.80)" stroke="#231f20" stroke-width="0.12">CBX2</text>
<text x="386.50" y="63.80" font-size="6.10" text-anchor="start" font-weight="normal" fill="#231f20" transform="rotate(-90 386.50 63.80)" stroke="#231f20" stroke-width="0.12">CDCA7</text>
<text x="395.85" y="63.80" font-size="6.10" text-anchor="start" font-weight="normal" fill="#231f20" transform="rotate(-90 395.85 63.80)" stroke="#231f20" stroke-width="0.12">HP1</text>
<text x="405.20" y="63.80" font-size="6.10" text-anchor="start" font-weight="normal" fill="#231f20" transform="rotate(-90 405.20 63.80)" stroke="#231f20" stroke-width="0.12">KIF26A</text>
<text x="414.55" y="63.80" font-size="6.10" text-anchor="start" font-weight="normal" fill="#231f20" transform="rotate(-90 414.55 63.80)" stroke="#231f20" stroke-width="0.12">MAPK13</text>
<text x="423.90" y="63.80" font-size="6.10" text-anchor="start" font-weight="normal" fill="#231f20" transform="rotate(-90 423.90 63.80)" stroke="#231f20" stroke-width="0.12">BFSP1</text>
<text x="433.25" y="63.80" font-size="6.10" text-anchor="start" font-weight="normal" fill="#231f20" transform="rotate(-90 433.25 63.80)" stroke="#231f20" stroke-width="0.12">CLCF1</text>
<text x="442.60" y="63.80" font-size="6.10" text-anchor="start" font-weight="normal" fill="#231f20" transform="rotate(-90 442.60 63.80)" stroke="#231f20" stroke-width="0.12">FBXO44</text>
<line x1="270.00" y1="35.40" x2="319.60" y2="35.40" stroke="#3a3a3a" stroke-width="1.0"/>
<line x1="325.80" y1="35.40" x2="365.80" y2="35.40" stroke="#3a3a3a" stroke-width="1.0"/>
<line x1="370.80" y1="35.40" x2="413.60" y2="35.40" stroke="#3a3a3a" stroke-width="1.0"/>
<line x1="417.00" y1="35.40" x2="442.00" y2="35.40" stroke="#3a3a3a" stroke-width="1.0"/>
<text x="294.80" y="31.90" font-size="6.30" text-anchor="middle" font-weight="normal" fill="#231f20" stroke="#231f20" stroke-width="0.1">LSC</text>
<text x="345.60" y="24.90" font-size="6.30" text-anchor="middle" font-weight="normal" fill="#231f20" textLength="29.20" lengthAdjust="spacingAndGlyphs" stroke="#231f20" stroke-width="0.1">Apoptosis/</text>
<text x="345.60" y="32.30" font-size="6.30" text-anchor="middle" font-weight="normal" fill="#231f20" textLength="36.80" lengthAdjust="spacingAndGlyphs" stroke="#231f20" stroke-width="0.1">DNA damage</text>
<text x="392.30" y="31.90" font-size="6.30" text-anchor="middle" font-weight="normal" fill="#231f20" textLength="34.00" lengthAdjust="spacingAndGlyphs" stroke="#231f20" stroke-width="0.1">Proliferation</text>
<text x="429.50" y="31.90" font-size="6.30" text-anchor="middle" font-weight="normal" fill="#231f20" textLength="22.60" lengthAdjust="spacingAndGlyphs" stroke="#231f20" stroke-width="0.1">Immune</text>
<rect x="448.7" y="67.5" width="6.6" height="64.0" fill="url(#gk)" stroke="#1a1a1a" stroke-width="0.9"/>
<line x1="455.30" y1="67.40" x2="456.90" y2="67.40" stroke="#222" stroke-width="0.7"/>
<line x1="448.70" y1="67.40" x2="449.90" y2="67.40" stroke="#222" stroke-width="0.7"/>
<text x="458.00" y="69.66" font-size="6.20" text-anchor="start" font-weight="normal" fill="#231f20" stroke="#231f20" stroke-width="0.1">2</text>
<line x1="455.30" y1="83.60" x2="456.90" y2="83.60" stroke="#222" stroke-width="0.7"/>
<line x1="448.70" y1="83.60" x2="449.90" y2="83.60" stroke="#222" stroke-width="0.7"/>
<text x="458.00" y="85.86" font-size="6.20" text-anchor="start" font-weight="normal" fill="#231f20" stroke="#231f20" stroke-width="0.1">1</text>
<line x1="455.30" y1="99.90" x2="456.90" y2="99.90" stroke="#222" stroke-width="0.7"/>
<line x1="448.70" y1="99.90" x2="449.90" y2="99.90" stroke="#222" stroke-width="0.7"/>
<text x="458.00" y="102.16" font-size="6.20" text-anchor="start" font-weight="normal" fill="#231f20" stroke="#231f20" stroke-width="0.1">0</text>
<line x1="455.30" y1="116.20" x2="456.90" y2="116.20" stroke="#222" stroke-width="0.7"/>
<line x1="448.70" y1="116.20" x2="449.90" y2="116.20" stroke="#222" stroke-width="0.7"/>
<text x="458.00" y="118.46" font-size="6.20" text-anchor="start" font-weight="normal" fill="#231f20" stroke="#231f20" stroke-width="0.1">−1</text>
<text x="451.00" y="62.86" font-size="6.20" text-anchor="start" font-weight="normal" fill="#231f20" textLength="23.40" lengthAdjust="spacingAndGlyphs" stroke="#231f20" stroke-width="0.1">Log2 FC</text>
<rect x="47.50" y="225.50" width="7.70" height="11.00" fill="#fdf5f5"/>
<rect x="54.80" y="225.50" width="7.70" height="11.00" fill="#fdf5f5"/>
<rect x="62.10" y="225.50" width="7.70" height="11.00" fill="#fdf3f3"/>
<rect x="69.40" y="225.50" width="7.70" height="11.00" fill="#f8c8c4"/>
<rect x="76.70" y="225.50" width="7.70" height="11.00" fill="#fef7f7"/>
<rect x="84.00" y="225.50" width="7.70" height="11.00" fill="#fef7f7"/>
<rect x="91.30" y="225.50" width="7.70" height="11.00" fill="#f8f8fc"/>
<rect x="98.60" y="225.50" width="7.70" height="11.00" fill="#fef7f7"/>
<rect x="105.90" y="225.50" width="7.70" height="11.00" fill="#fef7f7"/>
<rect x="113.20" y="225.50" width="7.70" height="11.00" fill="#fdf5f5"/>
<rect x="120.50" y="225.50" width="7.70" height="11.00" fill="#fdf5f5"/>
<rect x="127.80" y="225.50" width="7.70" height="11.00" fill="#fef7f7"/>
<rect x="135.10" y="225.50" width="7.70" height="11.00" fill="#fef7f7"/>
<rect x="142.40" y="225.50" width="7.70" height="11.00" fill="#fdf5f5"/>
<rect x="149.70" y="225.50" width="7.70" height="11.00" fill="#fae8e8"/>
<rect x="157.00" y="225.50" width="7.70" height="11.00" fill="#fae6e6"/>
<rect x="164.30" y="225.50" width="7.30" height="11.00" fill="#eef0f8"/>
<rect x="47.50" y="236.10" width="7.70" height="11.00" fill="#fdf3f3"/>
<rect x="54.80" y="236.10" width="7.70" height="11.00" fill="#fdf3f3"/>
<rect x="62.10" y="236.10" width="7.70" height="11.00" fill="#fae6e6"/>
<rect x="69.40" y="236.10" width="7.70" height="11.00" fill="#fae0e0"/>
<rect x="76.70" y="236.10" width="7.70" height="11.00" fill="#fefafa"/>
<rect x="84.00" y="236.10" width="7.70" height="11.00" fill="#fae6e6"/>
<rect x="91.30" y="236.10" width="7.70" height="11.00" fill="#fefafa"/>
<rect x="98.60" y="236.10" width="7.70" height="11.00" fill="#fceeee"/>
<rect x="105.90" y="236.10" width="7.70" height="11.00" fill="#fef7f7"/>
<rect x="113.20" y="236.10" width="7.70" height="11.00" fill="#f8d0cc"/>
<rect x="120.50" y="236.10" width="7.70" height="11.00" fill="#f8d0cc"/>
<rect x="127.80" y="236.10" width="7.70" height="11.00" fill="#fef7f7"/>
<rect x="135.10" y="236.10" width="7.70" height="11.00" fill="#fdf5f5"/>
<rect x="142.40" y="236.10" width="7.70" height="11.00" fill="#fdf3f3"/>
<rect x="149.70" y="236.10" width="7.70" height="11.00" fill="#fae8e8"/>
<rect x="157.00" y="236.10" width="7.70" height="11.00" fill="#fdf3f3"/>
<rect x="164.30" y="236.10" width="7.30" height="11.00" fill="#fef7f7"/>
<rect x="47.50" y="246.70" width="7.70" height="11.00" fill="#f9d0c8"/>
<rect x="54.80" y="246.70" width="7.70" height="11.00" fill="#f08a78"/>
<rect x="62.10" y="246.70" width="7.70" height="11.00" fill="#ec5030"/>
<rect x="69.40" y="246.70" width="7.70" height="11.00" fill="#ec5030"/>
<rect x="76.70" y="246.70" width="7.70" height="11.00" fill="#f9d0c8"/>
<rect x="84.00" y="246.70" width="7.70" height="11.00" fill="#f09080"/>
<rect x="91.30" y="246.70" width="7.70" height="11.00" fill="#f8d0c8"/>
<rect x="98.60" y="246.70" width="7.70" height="11.00" fill="#f08070"/>
<rect x="105.90" y="246.70" width="7.70" height="11.00" fill="#f9d0c8"/>
<rect x="113.20" y="246.70" width="7.70" height="11.00" fill="#e83c1c"/>
<rect x="120.50" y="246.70" width="7.70" height="11.00" fill="#e83c1c"/>
<rect x="127.80" y="246.70" width="7.70" height="11.00" fill="#f9d0c8"/>
<rect x="135.10" y="246.70" width="7.70" height="11.00" fill="#e84020"/>
<rect x="142.40" y="246.70" width="7.70" height="11.00" fill="#ec6040"/>
<rect x="149.70" y="246.70" width="7.70" height="11.00" fill="#e84020"/>
<rect x="157.00" y="246.70" width="7.70" height="11.00" fill="#ec5030"/>
<rect x="164.30" y="246.70" width="7.30" height="11.00" fill="#f9d0c8"/>
<rect x="47.50" y="257.30" width="7.70" height="11.00" fill="#fdf5f5"/>
<rect x="54.80" y="257.30" width="7.70" height="11.00" fill="#f6c0b8"/>
<rect x="62.10" y="257.30" width="7.70" height="11.00" fill="#ffffff"/>
<rect x="69.40" y="257.30" width="7.70" height="11.00" fill="#f4a090"/>
<rect x="76.70" y="257.30" width="7.70" height="11.00" fill="#fae4e4"/>
<rect x="84.00" y="257.30" width="7.70" height="11.00" fill="#fae6e6"/>
<rect x="91.30" y="257.30" width="7.70" height="11.00" fill="#fdf3f3"/>
<rect x="98.60" y="257.30" width="7.70" height="11.00" fill="#fdf3f3"/>
<rect x="105.90" y="257.30" width="7.70" height="11.00" fill="#fef7f7"/>
<rect x="113.20" y="257.30" width="7.70" height="11.00" fill="#fae6e6"/>
<rect x="120.50" y="257.30" width="7.70" height="11.00" fill="#fae8e8"/>
<rect x="127.80" y="257.30" width="7.70" height="11.00" fill="#fef7f7"/>
<rect x="135.10" y="257.30" width="7.70" height="11.00" fill="#fae8e8"/>
<rect x="142.40" y="257.30" width="7.70" height="11.00" fill="#fae8e8"/>
<rect x="149.70" y="257.30" width="7.70" height="11.00" fill="#fdf3f3"/>
<rect x="157.00" y="257.30" width="7.70" height="11.00" fill="#fdf3f3"/>
<rect x="164.30" y="257.30" width="7.30" height="11.00" fill="#fef7f7"/>
<rect x="47.50" y="267.90" width="7.70" height="10.60" fill="#fae8e8"/>
<rect x="54.80" y="267.90" width="7.70" height="10.60" fill="#fcf0f0"/>
<rect x="62.10" y="267.90" width="7.70" height="10.60" fill="#f6cccc"/>
<rect x="69.40" y="267.90" width="7.70" height="10.60" fill="#f8d4d4"/>
<rect x="76.70" y="267.90" width="7.70" height="10.60" fill="#fdf5f5"/>
<rect x="84.00" y="267.90" width="7.70" height="10.60" fill="#fef7f7"/>
<rect x="91.30" y="267.90" width="7.70" height="10.60" fill="#fef7f7"/>
<rect x="98.60" y="267.90" width="7.70" height="10.60" fill="#fae8e8"/>
<rect x="105.90" y="267.90" width="7.70" height="10.60" fill="#fef7f7"/>
<rect x="113.20" y="267.90" width="7.70" height="10.60" fill="#f9e0e0"/>
<rect x="120.50" y="267.90" width="7.70" height="10.60" fill="#f6c8c8"/>
<rect x="127.80" y="267.90" width="7.70" height="10.60" fill="#dde0f4"/>
<rect x="135.10" y="267.90" width="7.70" height="10.60" fill="#f5c4c4"/>
<rect x="142.40" y="267.90" width="7.70" height="10.60" fill="#fae6e6"/>
<rect x="149.70" y="267.90" width="7.70" height="10.60" fill="#fdf3f3"/>
<rect x="157.00" y="267.90" width="7.70" height="10.60" fill="#fdf3f3"/>
<rect x="164.30" y="267.90" width="7.30" height="10.60" fill="#fef7f7"/>
<rect x="47.50" y="225.50" width="124.10" height="53.00" fill="none" stroke="#1a1a1a" stroke-width="1.1"/>
<text x="44.60" y="233.02" font-size="6.10" text-anchor="end" font-weight="normal" fill="#231f20" stroke="#231f20" stroke-width="0.1">PRC2i</text>
<text x="44.60" y="243.62" font-size="6.10" text-anchor="end" font-weight="normal" fill="#231f20" stroke="#231f20" stroke-width="0.1">OGTi</text>
<text x="44.60" y="254.22" font-size="6.10" text-anchor="end" font-weight="normal" fill="#231f20" stroke="#231f20" stroke-width="0.1">PLK4i</text>
<text x="44.60" y="264.82" font-size="6.10" text-anchor="end" font-weight="normal" fill="#231f20" stroke="#231f20" stroke-width="0.1">PLK4i+PRC2i</text>
<text x="44.60" y="275.42" font-size="6.10" text-anchor="end" font-weight="normal" fill="#231f20" stroke="#231f20" stroke-width="0.1">PLK4i+OGTi</text>
<text x="53.37" y="222.60" font-size="6.10" text-anchor="start" font-weight="normal" fill="#231f20" transform="rotate(-90 53.37 222.60)" stroke="#231f20" stroke-width="0.1">ALCAM</text>
<text x="60.67" y="222.60" font-size="6.10" text-anchor="start" font-weight="normal" fill="#231f20" transform="rotate(-90 60.67 222.60)" stroke="#231f20" stroke-width="0.1">CAMK2G</text>
<text x="67.97" y="222.60" font-size="6.10" text-anchor="start" font-weight="normal" fill="#231f20" transform="rotate(-90 67.97 222.60)" stroke="#231f20" stroke-width="0.1">KIT</text>
<text x="75.27" y="222.60" font-size="6.10" text-anchor="start" font-weight="normal" fill="#231f20" transform="rotate(-90 75.27 222.60)" stroke="#231f20" stroke-width="0.1">MROH6</text>
<text x="82.57" y="222.60" font-size="6.10" text-anchor="start" font-weight="normal" fill="#231f20" transform="rotate(-90 82.57 222.60)" stroke="#231f20" stroke-width="0.1">MPL</text>
<text x="89.87" y="222.60" font-size="6.10" text-anchor="start" font-weight="normal" fill="#231f20" transform="rotate(-90 89.87 222.60)" stroke="#231f20" stroke-width="0.1">RGL4</text>
<text x="97.17" y="222.60" font-size="6.10" text-anchor="start" font-weight="normal" fill="#231f20" transform="rotate(-90 97.17 222.60)" stroke="#231f20" stroke-width="0.1">ARC</text>
<text x="104.47" y="222.60" font-size="6.10" text-anchor="start" font-weight="normal" fill="#231f20" transform="rotate(-90 104.47 222.60)" stroke="#231f20" stroke-width="0.1">ATP1B1</text>
<text x="111.77" y="222.60" font-size="6.10" text-anchor="start" font-weight="normal" fill="#231f20" transform="rotate(-90 111.77 222.60)" stroke="#231f20" stroke-width="0.1">CDC7</text>
<text x="119.07" y="222.60" font-size="6.10" text-anchor="start" font-weight="normal" fill="#231f20" transform="rotate(-90 119.07 222.60)" stroke="#231f20" stroke-width="0.1">CBX2</text>
<text x="126.37" y="222.60" font-size="6.10" text-anchor="start" font-weight="normal" fill="#231f20" transform="rotate(-90 126.37 222.60)" stroke="#231f20" stroke-width="0.1">MAPK13</text>
<text x="133.67" y="222.60" font-size="6.10" text-anchor="start" font-weight="normal" fill="#231f20" transform="rotate(-90 133.67 222.60)" stroke="#231f20" stroke-width="0.1">RAD51B</text>
<text x="140.97" y="222.60" font-size="6.10" text-anchor="start" font-weight="normal" fill="#231f20" transform="rotate(-90 140.97 222.60)" stroke="#231f20" stroke-width="0.1">BFSP1</text>
<text x="148.27" y="222.60" font-size="6.10" text-anchor="start" font-weight="normal" fill="#231f20" transform="rotate(-90 148.27 222.60)" stroke="#231f20" stroke-width="0.1">CLCF1</text>
<text x="155.57" y="222.60" font-size="6.10" text-anchor="start" font-weight="normal" fill="#231f20" transform="rotate(-90 155.57 222.60)" stroke="#231f20" stroke-width="0.1">FBXO44</text>
<text x="162.87" y="222.60" font-size="6.10" text-anchor="start" font-weight="normal" fill="#231f20" transform="rotate(-90 162.87 222.60)" stroke="#231f20" stroke-width="0.1">CD34</text>
<text x="170.17" y="222.60" font-size="6.10" text-anchor="start" font-weight="normal" fill="#231f20" transform="rotate(-90 170.17 222.60)" stroke="#231f20" stroke-width="0.1">KIF26A</text>
<rect x="174.2" y="225.3" width="5.6" height="53.0" fill="url(#gl)" stroke="#1a1a1a" stroke-width="0.9"/>
<line x1="179.80" y1="227.80" x2="181.40" y2="227.80" stroke="#222" stroke-width="0.7"/>
<line x1="174.20" y1="227.80" x2="175.40" y2="227.80" stroke="#222" stroke-width="0.7"/>
<text x="183.00" y="230.06" font-size="6.20" text-anchor="start" font-weight="normal" fill="#231f20" stroke="#231f20" stroke-width="0.1">2</text>
<line x1="179.80" y1="248.10" x2="181.40" y2="248.10" stroke="#222" stroke-width="0.7"/>
<line x1="174.20" y1="248.10" x2="175.40" y2="248.10" stroke="#222" stroke-width="0.7"/>
<text x="183.00" y="250.36" font-size="6.20" text-anchor="start" font-weight="normal" fill="#231f20" stroke="#231f20" stroke-width="0.1">1</text>
<line x1="179.80" y1="268.30" x2="181.40" y2="268.30" stroke="#222" stroke-width="0.7"/>
<line x1="174.20" y1="268.30" x2="175.40" y2="268.30" stroke="#222" stroke-width="0.7"/>
<text x="183.00" y="270.56" font-size="6.20" text-anchor="start" font-weight="normal" fill="#231f20" stroke="#231f20" stroke-width="0.1">0</text>
<text x="175.50" y="221.96" font-size="6.20" text-anchor="start" font-weight="normal" fill="#231f20" textLength="24.50" lengthAdjust="spacingAndGlyphs" stroke="#231f20" stroke-width="0.1">Log2 FC</text>
<line x1="234.30" y1="191.20" x2="234.30" y2="270.80" stroke="#231f20" stroke-width="0.95"/>
<line x1="233.90" y1="270.80" x2="282.40" y2="270.80" stroke="#231f20" stroke-width="0.95"/>
<line x1="231.80" y1="270.80" x2="234.30" y2="270.80" stroke="#231f20" stroke-width="0.75"/>
<text x="228.20" y="273.00" font-size="6.05" text-anchor="end" font-weight="normal" fill="#231f20" textLength="7.77" lengthAdjust="spacingAndGlyphs" stroke="#231f20" stroke-width="0.1">0.0</text>
<line x1="231.80" y1="247.30" x2="234.30" y2="247.30" stroke="#231f20" stroke-width="0.75"/>
<text x="228.20" y="249.51" font-size="6.05" text-anchor="end" font-weight="normal" fill="#231f20" textLength="7.77" lengthAdjust="spacingAndGlyphs" stroke="#231f20" stroke-width="0.1">0.5</text>
<line x1="231.80" y1="223.80" x2="234.30" y2="223.80" stroke="#231f20" stroke-width="0.75"/>
<text x="228.20" y="226.01" font-size="6.05" text-anchor="end" font-weight="normal" fill="#231f20" textLength="7.77" lengthAdjust="spacingAndGlyphs" stroke="#231f20" stroke-width="0.1">1.0</text>
<line x1="231.80" y1="200.30" x2="234.30" y2="200.30" stroke="#231f20" stroke-width="0.75"/>
<text x="228.20" y="202.51" font-size="6.05" text-anchor="end" font-weight="normal" fill="#231f20" textLength="7.77" lengthAdjust="spacingAndGlyphs" stroke="#231f20" stroke-width="0.1">1.5</text>
<rect x="238.10" y="250.60" width="7.40" height="20.20" fill="#1c4f8e"/>
<line x1="241.80" y1="247.00" x2="241.80" y2="250.60" stroke="#1c4f8e" stroke-width="0.8"/>
<line x1="240.17" y1="247.00" x2="243.43" y2="247.00" stroke="#1c4f8e" stroke-width="0.8"/>
<rect x="249.10" y="203.00" width="7.40" height="67.80" fill="#cc0a2e"/>
<line x1="252.80" y1="198.60" x2="252.80" y2="203.00" stroke="#cc0a2e" stroke-width="0.8"/>
<line x1="251.17" y1="198.60" x2="254.43" y2="198.60" stroke="#cc0a2e" stroke-width="0.8"/>
<rect x="260.10" y="256.60" width="7.40" height="14.20" fill="#3db34a"/>
<line x1="263.80" y1="253.00" x2="263.80" y2="256.60" stroke="#3db34a" stroke-width="0.8"/>
<line x1="262.17" y1="253.00" x2="265.43" y2="253.00" stroke="#3db34a" stroke-width="0.8"/>
<rect x="271.10" y="244.00" width="7.40" height="26.80" fill="#5a2383"/>
<line x1="274.80" y1="240.00" x2="274.80" y2="244.00" stroke="#5a2383" stroke-width="0.8"/>
<line x1="273.17" y1="240.00" x2="276.43" y2="240.00" stroke="#5a2383" stroke-width="0.8"/>
<line x1="241.80" y1="270.80" x2="241.80" y2="273.40" stroke="#231f20" stroke-width="0.85"/>
<line x1="252.80" y1="270.80" x2="252.80" y2="273.40" stroke="#231f20" stroke-width="0.85"/>
<line x1="263.80" y1="270.80" x2="263.80" y2="273.40" stroke="#231f20" stroke-width="0.85"/>
<line x1="274.80" y1="270.80" x2="274.80" y2="273.40" stroke="#231f20" stroke-width="0.85"/>
<line x1="253.00" y1="195.60" x2="275.60" y2="195.60" stroke="#505050" stroke-width="0.9"/>
<text x="264.30" y="195.70" font-size="6.6" text-anchor="middle" font-weight="bold" fill="#333">**</text>
<text x="213.40" y="228.60" font-size="6.58" text-anchor="middle" font-weight="normal" fill="#231f20" transform="rotate(-90 213.40 228.60)" textLength="43.00" lengthAdjust="spacingAndGlyphs" stroke="#231f20" stroke-width="0.1">γH2AX/GAPDH</text>
<text x="227.40" y="282.11" font-size="6.34" text-anchor="end" font-weight="normal" fill="#231f20" textLength="15.13" lengthAdjust="spacingAndGlyphs" stroke="#231f20" stroke-width="0.1">PLK4i</text>
<line x1="240.20" y1="280.25" x2="243.40" y2="280.25" stroke="#333" stroke-width="0.7"/>
<line x1="251.30" y1="280.25" x2="254.30" y2="280.25" stroke="#333" stroke-width="0.7"/>
<line x1="252.80" y1="278.75" x2="252.80" y2="281.75" stroke="#333" stroke-width="0.7"/>
<line x1="262.20" y1="280.25" x2="265.40" y2="280.25" stroke="#333" stroke-width="0.7"/>
<line x1="273.30" y1="280.25" x2="276.30" y2="280.25" stroke="#333" stroke-width="0.7"/>
<line x1="274.80" y1="278.75" x2="274.80" y2="281.75" stroke="#333" stroke-width="0.7"/>
<text x="227.40" y="291.91" font-size="6.34" text-anchor="end" font-weight="normal" fill="#231f20" textLength="15.82" lengthAdjust="spacingAndGlyphs" stroke="#231f20" stroke-width="0.1">PRC2i</text>
<line x1="240.20" y1="290.05" x2="243.40" y2="290.05" stroke="#333" stroke-width="0.7"/>
<line x1="251.20" y1="290.05" x2="254.40" y2="290.05" stroke="#333" stroke-width="0.7"/>
<line x1="262.30" y1="290.05" x2="265.30" y2="290.05" stroke="#333" stroke-width="0.7"/>
<line x1="263.80" y1="288.55" x2="263.80" y2="291.55" stroke="#333" stroke-width="0.7"/>
<line x1="273.30" y1="290.05" x2="276.30" y2="290.05" stroke="#333" stroke-width="0.7"/>
<line x1="274.80" y1="288.55" x2="274.80" y2="291.55" stroke="#333" stroke-width="0.7"/>
<line x1="317.60" y1="190.20" x2="317.60" y2="270.60" stroke="#231f20" stroke-width="0.95"/>
<line x1="317.20" y1="270.60" x2="397.60" y2="270.60" stroke="#231f20" stroke-width="0.95"/>
<line x1="315.10" y1="270.60" x2="317.60" y2="270.60" stroke="#231f20" stroke-width="0.75"/>
<text x="313.20" y="272.81" font-size="6.05" text-anchor="end" font-weight="normal" fill="#231f20" textLength="3.23" lengthAdjust="spacingAndGlyphs" stroke="#231f20" stroke-width="0.1">0</text>
<line x1="315.10" y1="238.40" x2="317.60" y2="238.40" stroke="#231f20" stroke-width="0.75"/>
<text x="313.20" y="240.61" font-size="6.05" text-anchor="end" font-weight="normal" fill="#231f20" textLength="6.46" lengthAdjust="spacingAndGlyphs" stroke="#231f20" stroke-width="0.1">10</text>
<line x1="315.10" y1="206.20" x2="317.60" y2="206.20" stroke="#231f20" stroke-width="0.75"/>
<text x="313.20" y="208.41" font-size="6.05" text-anchor="end" font-weight="normal" fill="#231f20" textLength="6.46" lengthAdjust="spacingAndGlyphs" stroke="#231f20" stroke-width="0.1">20</text>
<rect x="321.80" y="262.00" width="8.40" height="8.60" fill="#1c4f8e"/>
<line x1="326.00" y1="259.00" x2="326.00" y2="262.00" stroke="#1c4f8e" stroke-width="0.8"/>
<line x1="324.15" y1="259.00" x2="327.85" y2="259.00" stroke="#1c4f8e" stroke-width="0.8"/>
<rect x="334.50" y="198.00" width="8.40" height="72.60" fill="#cc0a2e"/>
<line x1="338.70" y1="193.00" x2="338.70" y2="198.00" stroke="#cc0a2e" stroke-width="0.8"/>
<line x1="336.85" y1="193.00" x2="340.55" y2="193.00" stroke="#cc0a2e" stroke-width="0.8"/>
<rect x="347.10" y="248.40" width="8.40" height="22.20" fill="#3db34a"/>
<line x1="351.30" y1="244.00" x2="351.30" y2="248.40" stroke="#3db34a" stroke-width="0.8"/>
<line x1="349.45" y1="244.00" x2="353.15" y2="244.00" stroke="#3db34a" stroke-width="0.8"/>
<rect x="359.80" y="263.00" width="8.40" height="7.60" fill="#5a2383"/>
<line x1="364.00" y1="261.00" x2="364.00" y2="263.00" stroke="#5a2383" stroke-width="0.8"/>
<line x1="362.15" y1="261.00" x2="365.85" y2="261.00" stroke="#5a2383" stroke-width="0.8"/>
<rect x="372.50" y="214.00" width="8.40" height="56.60" fill="#f7941d"/>
<line x1="376.70" y1="209.60" x2="376.70" y2="214.00" stroke="#f7941d" stroke-width="0.8"/>
<line x1="374.85" y1="209.60" x2="378.55" y2="209.60" stroke="#f7941d" stroke-width="0.8"/>
<rect x="385.30" y="258.60" width="8.40" height="12.00" fill="#475673"/>
<line x1="389.50" y1="255.00" x2="389.50" y2="258.60" stroke="#475673" stroke-width="0.8"/>
<line x1="387.65" y1="255.00" x2="391.35" y2="255.00" stroke="#475673" stroke-width="0.8"/>
<line x1="326.00" y1="270.60" x2="326.00" y2="273.20" stroke="#231f20" stroke-width="0.85"/>
<line x1="338.70" y1="270.60" x2="338.70" y2="273.20" stroke="#231f20" stroke-width="0.85"/>
<line x1="351.30" y1="270.60" x2="351.30" y2="273.20" stroke="#231f20" stroke-width="0.85"/>
<line x1="364.00" y1="270.60" x2="364.00" y2="273.20" stroke="#231f20" stroke-width="0.85"/>
<line x1="376.70" y1="270.60" x2="376.70" y2="273.20" stroke="#231f20" stroke-width="0.85"/>
<line x1="389.50" y1="270.60" x2="389.50" y2="273.20" stroke="#231f20" stroke-width="0.85"/>
<line x1="339.60" y1="191.00" x2="376.40" y2="191.00" stroke="#505050" stroke-width="0.9"/>
<text x="358.00" y="191.50" font-size="6.6" text-anchor="middle" font-weight="bold" fill="#333">*</text>
<line x1="352.00" y1="205.40" x2="387.60" y2="205.40" stroke="#505050" stroke-width="0.9"/>
<text x="370.00" y="205.70" font-size="6.6" text-anchor="middle" font-weight="bold" fill="#333">*</text>
<text x="299.31" y="233.00" font-size="6.34" text-anchor="middle" font-weight="normal" fill="#231f20" transform="rotate(-90 299.31 233.00)" textLength="48.50" lengthAdjust="spacingAndGlyphs" stroke="#231f20" stroke-width="0.1">Apoptotic cells (%)</text>
<text x="311.80" y="282.18" font-size="6.53" text-anchor="end" font-weight="normal" fill="#231f20" textLength="15.59" lengthAdjust="spacingAndGlyphs" stroke="#231f20" stroke-width="0.1">PLK4i</text>
<line x1="324.40" y1="280.25" x2="327.60" y2="280.25" stroke="#333" stroke-width="0.7"/>
<line x1="337.20" y1="280.25" x2="340.20" y2="280.25" stroke="#333" stroke-width="0.7"/>
<line x1="338.70" y1="278.75" x2="338.70" y2="281.75" stroke="#333" stroke-width="0.7"/>
<line x1="349.70" y1="280.25" x2="352.90" y2="280.25" stroke="#333" stroke-width="0.7"/>
<line x1="362.40" y1="280.25" x2="365.60" y2="280.25" stroke="#333" stroke-width="0.7"/>
<line x1="375.20" y1="280.25" x2="378.20" y2="280.25" stroke="#333" stroke-width="0.7"/>
<line x1="376.70" y1="278.75" x2="376.70" y2="281.75" stroke="#333" stroke-width="0.7"/>
<line x1="387.90" y1="280.25" x2="391.10" y2="280.25" stroke="#333" stroke-width="0.7"/>
<text x="311.80" y="292.18" font-size="6.53" text-anchor="end" font-weight="normal" fill="#231f20" textLength="21.20" lengthAdjust="spacingAndGlyphs" stroke="#231f20" stroke-width="0.1">PRMT5i</text>
<line x1="324.40" y1="290.25" x2="327.60" y2="290.25" stroke="#333" stroke-width="0.7"/>
<line x1="337.10" y1="290.25" x2="340.30" y2="290.25" stroke="#333" stroke-width="0.7"/>
<line x1="349.80" y1="290.25" x2="352.80" y2="290.25" stroke="#333" stroke-width="0.7"/>
<line x1="351.30" y1="288.75" x2="351.30" y2="291.75" stroke="#333" stroke-width="0.7"/>
<line x1="362.40" y1="290.25" x2="365.60" y2="290.25" stroke="#333" stroke-width="0.7"/>
<line x1="375.10" y1="290.25" x2="378.30" y2="290.25" stroke="#333" stroke-width="0.7"/>
<line x1="388.00" y1="290.25" x2="391.00" y2="290.25" stroke="#333" stroke-width="0.7"/>
<line x1="389.50" y1="288.75" x2="389.50" y2="291.75" stroke="#333" stroke-width="0.7"/>
<text x="311.80" y="302.08" font-size="6.53" text-anchor="end" font-weight="normal" fill="#231f20" textLength="16.30" lengthAdjust="spacingAndGlyphs" stroke="#231f20" stroke-width="0.1">PRC2i</text>
<line x1="324.40" y1="300.15" x2="327.60" y2="300.15" stroke="#333" stroke-width="0.7"/>
<line x1="337.10" y1="300.15" x2="340.30" y2="300.15" stroke="#333" stroke-width="0.7"/>
<line x1="349.70" y1="300.15" x2="352.90" y2="300.15" stroke="#333" stroke-width="0.7"/>
<line x1="362.50" y1="300.15" x2="365.50" y2="300.15" stroke="#333" stroke-width="0.7"/>
<line x1="364.00" y1="298.65" x2="364.00" y2="301.65" stroke="#333" stroke-width="0.7"/>
<line x1="375.20" y1="300.15" x2="378.20" y2="300.15" stroke="#333" stroke-width="0.7"/>
<line x1="376.70" y1="298.65" x2="376.70" y2="301.65" stroke="#333" stroke-width="0.7"/>
<line x1="388.00" y1="300.15" x2="391.00" y2="300.15" stroke="#333" stroke-width="0.7"/>
<line x1="389.50" y1="298.65" x2="389.50" y2="301.65" stroke="#333" stroke-width="0.7"/>
<line x1="433.70" y1="187.80" x2="433.70" y2="270.50" stroke="#231f20" stroke-width="0.95"/>
<line x1="433.30" y1="270.50" x2="513.00" y2="270.50" stroke="#231f20" stroke-width="0.95"/>
<line x1="431.20" y1="270.50" x2="433.70" y2="270.50" stroke="#231f20" stroke-width="0.75"/>
<text x="428.00" y="272.70" font-size="6.05" text-anchor="end" font-weight="normal" fill="#231f20" textLength="3.23" lengthAdjust="spacingAndGlyphs" stroke="#231f20" stroke-width="0.1">0</text>
<line x1="431.20" y1="243.80" x2="433.70" y2="243.80" stroke="#231f20" stroke-width="0.75"/>
<text x="428.00" y="246.01" font-size="6.05" text-anchor="end" font-weight="normal" fill="#231f20" textLength="6.46" lengthAdjust="spacingAndGlyphs" stroke="#231f20" stroke-width="0.1">10</text>
<line x1="431.20" y1="217.10" x2="433.70" y2="217.10" stroke="#231f20" stroke-width="0.75"/>
<text x="428.00" y="219.31" font-size="6.05" text-anchor="end" font-weight="normal" fill="#231f20" textLength="6.46" lengthAdjust="spacingAndGlyphs" stroke="#231f20" stroke-width="0.1">20</text>
<line x1="431.20" y1="190.40" x2="433.70" y2="190.40" stroke="#231f20" stroke-width="0.75"/>
<text x="428.00" y="192.61" font-size="6.05" text-anchor="end" font-weight="normal" fill="#231f20" textLength="6.46" lengthAdjust="spacingAndGlyphs" stroke="#231f20" stroke-width="0.1">30</text>
<rect x="437.45" y="206.60" width="8.50" height="63.90" fill="#1c4f8e"/>
<line x1="441.70" y1="206.00" x2="441.70" y2="206.60" stroke="#1c4f8e" stroke-width="0.8"/>
<line x1="439.83" y1="206.00" x2="443.57" y2="206.00" stroke="#1c4f8e" stroke-width="0.8"/>
<rect x="450.05" y="232.60" width="8.50" height="37.90" fill="#cc0a2e"/>
<line x1="454.30" y1="231.40" x2="454.30" y2="232.60" stroke="#cc0a2e" stroke-width="0.8"/>
<line x1="452.43" y1="231.40" x2="456.17" y2="231.40" stroke="#cc0a2e" stroke-width="0.8"/>
<rect x="462.65" y="226.60" width="8.50" height="43.90" fill="#3db34a"/>
<line x1="466.90" y1="224.40" x2="466.90" y2="226.60" stroke="#3db34a" stroke-width="0.8"/>
<line x1="465.03" y1="224.40" x2="468.77" y2="224.40" stroke="#3db34a" stroke-width="0.8"/>
<rect x="475.25" y="205.00" width="8.50" height="65.50" fill="#5a2383"/>
<line x1="479.50" y1="204.40" x2="479.50" y2="205.00" stroke="#5a2383" stroke-width="0.8"/>
<line x1="477.63" y1="204.40" x2="481.37" y2="204.40" stroke="#5a2383" stroke-width="0.8"/>
<rect x="487.95" y="221.60" width="8.50" height="48.90" fill="#f7941d"/>
<line x1="492.20" y1="219.20" x2="492.20" y2="221.60" stroke="#f7941d" stroke-width="0.8"/>
<line x1="490.33" y1="219.20" x2="494.07" y2="219.20" stroke="#f7941d" stroke-width="0.8"/>
<rect x="500.55" y="218.20" width="8.50" height="52.30" fill="#475673"/>
<line x1="504.80" y1="217.00" x2="504.80" y2="218.20" stroke="#475673" stroke-width="0.8"/>
<line x1="502.93" y1="217.00" x2="506.67" y2="217.00" stroke="#475673" stroke-width="0.8"/>
<line x1="441.70" y1="270.50" x2="441.70" y2="273.10" stroke="#231f20" stroke-width="0.85"/>
<line x1="454.30" y1="270.50" x2="454.30" y2="273.10" stroke="#231f20" stroke-width="0.85"/>
<line x1="466.90" y1="270.50" x2="466.90" y2="273.10" stroke="#231f20" stroke-width="0.85"/>
<line x1="479.50" y1="270.50" x2="479.50" y2="273.10" stroke="#231f20" stroke-width="0.85"/>
<line x1="492.20" y1="270.50" x2="492.20" y2="273.10" stroke="#231f20" stroke-width="0.85"/>
<line x1="504.80" y1="270.50" x2="504.80" y2="273.10" stroke="#231f20" stroke-width="0.85"/>
<line x1="454.60" y1="193.40" x2="492.00" y2="193.40" stroke="#505050" stroke-width="0.9"/>
<text x="473.30" y="193.70" font-size="6.6" text-anchor="middle" font-weight="bold" fill="#333">*</text>
<line x1="465.60" y1="201.60" x2="504.60" y2="201.60" stroke="#505050" stroke-width="0.9"/>
<text x="485.10" y="201.90" font-size="6.6" text-anchor="middle" font-weight="bold" fill="#333">*</text>
<text x="414.66" y="229.50" font-size="6.48" text-anchor="middle" font-weight="normal" fill="#231f20" transform="rotate(-90 414.66 229.50)" textLength="64.50" lengthAdjust="spacingAndGlyphs" stroke="#231f20" stroke-width="0.1">BrdU incorporation (%)</text>
<text x="426.60" y="282.18" font-size="6.53" text-anchor="end" font-weight="normal" fill="#231f20" textLength="15.59" lengthAdjust="spacingAndGlyphs" stroke="#231f20" stroke-width="0.1">PLK4i</text>
<line x1="440.10" y1="280.25" x2="443.30" y2="280.25" stroke="#333" stroke-width="0.7"/>
<line x1="452.80" y1="280.25" x2="455.80" y2="280.25" stroke="#333" stroke-width="0.7"/>
<line x1="454.30" y1="278.75" x2="454.30" y2="281.75" stroke="#333" stroke-width="0.7"/>
<line x1="465.30" y1="280.25" x2="468.50" y2="280.25" stroke="#333" stroke-width="0.7"/>
<line x1="477.90" y1="280.25" x2="481.10" y2="280.25" stroke="#333" stroke-width="0.7"/>
<line x1="490.70" y1="280.25" x2="493.70" y2="280.25" stroke="#333" stroke-width="0.7"/>
<line x1="492.20" y1="278.75" x2="492.20" y2="281.75" stroke="#333" stroke-width="0.7"/>
<line x1="503.20" y1="280.25" x2="506.40" y2="280.25" stroke="#333" stroke-width="0.7"/>
<text x="426.60" y="292.18" font-size="6.53" text-anchor="end" font-weight="normal" fill="#231f20" textLength="21.20" lengthAdjust="spacingAndGlyphs" stroke="#231f20" stroke-width="0.1">PRMT5i</text>
<line x1="440.10" y1="290.25" x2="443.30" y2="290.25" stroke="#333" stroke-width="0.7"/>
<line x1="452.70" y1="290.25" x2="455.90" y2="290.25" stroke="#333" stroke-width="0.7"/>
<line x1="465.40" y1="290.25" x2="468.40" y2="290.25" stroke="#333" stroke-width="0.7"/>
<line x1="466.90" y1="288.75" x2="466.90" y2="291.75" stroke="#333" stroke-width="0.7"/>
<line x1="477.90" y1="290.25" x2="481.10" y2="290.25" stroke="#333" stroke-width="0.7"/>
<line x1="490.60" y1="290.25" x2="493.80" y2="290.25" stroke="#333" stroke-width="0.7"/>
<line x1="503.30" y1="290.25" x2="506.30" y2="290.25" stroke="#333" stroke-width="0.7"/>
<line x1="504.80" y1="288.75" x2="504.80" y2="291.75" stroke="#333" stroke-width="0.7"/>
<text x="426.60" y="302.08" font-size="6.53" text-anchor="end" font-weight="normal" fill="#231f20" textLength="16.30" lengthAdjust="spacingAndGlyphs" stroke="#231f20" stroke-width="0.1">PRC2i</text>
<line x1="440.10" y1="300.15" x2="443.30" y2="300.15" stroke="#333" stroke-width="0.7"/>
<line x1="452.70" y1="300.15" x2="455.90" y2="300.15" stroke="#333" stroke-width="0.7"/>
<line x1="465.30" y1="300.15" x2="468.50" y2="300.15" stroke="#333" stroke-width="0.7"/>
<line x1="478.00" y1="300.15" x2="481.00" y2="300.15" stroke="#333" stroke-width="0.7"/>
<line x1="479.50" y1="298.65" x2="479.50" y2="301.65" stroke="#333" stroke-width="0.7"/>
<line x1="490.70" y1="300.15" x2="493.70" y2="300.15" stroke="#333" stroke-width="0.7"/>
<line x1="492.20" y1="298.65" x2="492.20" y2="301.65" stroke="#333" stroke-width="0.7"/>
<line x1="503.30" y1="300.15" x2="506.30" y2="300.15" stroke="#333" stroke-width="0.7"/>
<line x1="504.80" y1="298.65" x2="504.80" y2="301.65" stroke="#333" stroke-width="0.7"/>
<rect x="0.5" y="0.5" width="519" height="309" fill="none" stroke="#4d4d4d" stroke-width="1"/>
</svg>
</body></html>
